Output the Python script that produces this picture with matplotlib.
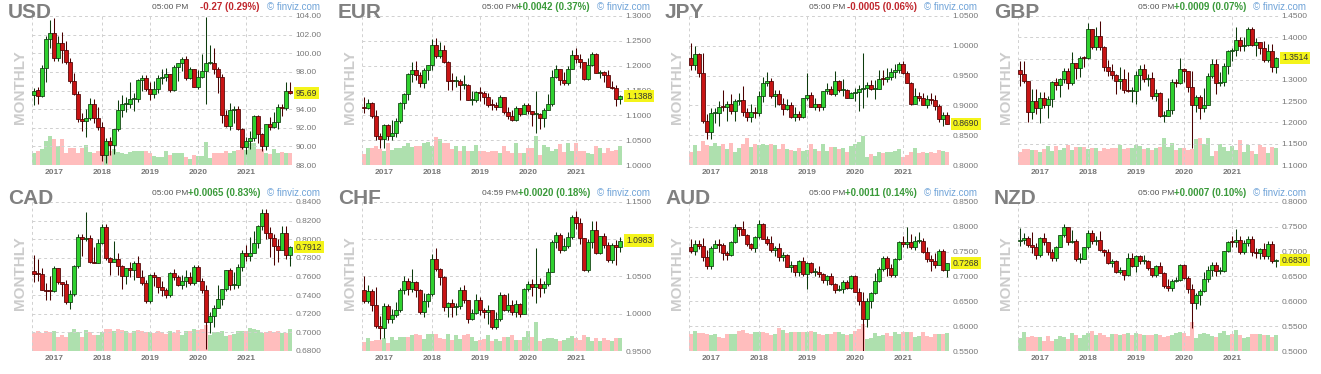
import numpy as np
import matplotlib
matplotlib.use("Agg")
import matplotlib.pyplot as plt
import matplotlib.transforms as mtransforms
from matplotlib.ticker import FormatStrFormatter

plt.rcParams['font.family'] = ['Liberation Sans', 'DejaVu Sans']

# monthly candles, Aug 2016 .. Dec 2021 (65 months)
years = ['2017', '2018', '2019', '2020', '2021']
year_idx = [5, 17, 29, 41, 53]          # January candle of each year

# ---- USD ----
usd_open0 = 95.5
usd_close = [96.0, 95.45, 98.45, 101.5, 102.2,
             99.5, 101.1, 100.35, 99.05, 97.0, 95.6, 92.9, 92.7, 93.1, 94.55, 93.05, 92.1,
             89.1, 90.6, 90.15, 91.85, 93.95, 94.5, 94.5, 95.1, 95.1, 97.1, 97.3, 96.2,
             95.6, 96.15, 97.3, 97.5, 97.75, 96.1, 98.5, 98.9, 99.4, 97.35, 98.3, 96.4,
             97.4, 98.1, 99.0, 99.0, 98.3, 97.4, 93.35, 92.15, 93.9, 94.0, 91.9, 89.9,
             90.6, 90.9, 93.3, 91.3, 90.0, 92.4, 92.1, 92.6, 94.2, 94.1, 95.95, 95.69]
usd_high = [96.3, 96.4, 98.7, 101.9, 103.6,
            103.8, 101.8, 102.3, 101.3, 99.5, 97.9, 96.0, 93.6, 94.0, 95.2, 95.1, 94.2,
            92.6, 90.9, 91.0, 91.9, 95.0, 95.5, 95.25, 96.9, 95.7, 97.2, 97.7, 97.7,
            96.95, 97.0, 97.7, 98.3, 98.4, 97.8, 98.7, 99.0, 99.65, 99.7, 98.5, 98.3,
            98.2, 99.9, 103.9, 100.9, 100.6, 98.5, 97.8, 93.95, 94.7, 94.3, 94.3, 92.0,
            91.0, 91.6, 93.4, 93.4, 91.4, 92.4, 93.2, 93.7, 94.5, 94.6, 96.9, 96.9]
usd_low = [94.4, 94.6, 95.3, 96.9, 100.6,
           99.2, 99.2, 98.9, 98.8, 96.8, 95.5, 92.6, 91.6, 91.0, 92.8, 92.5, 91.8,
           88.4, 88.25, 89.1, 89.2, 91.7, 93.2, 93.7, 94.1, 93.8, 94.8, 96.0, 95.95,
           95.0, 95.2, 95.7, 96.75, 97.0, 95.8, 95.95, 97.05, 98.1, 97.1, 97.2, 96.4,
           96.2, 97.35, 94.6, 98.8, 97.8, 95.7, 92.5, 92.1, 91.75, 92.5, 91.75, 89.7,
           89.2, 89.7, 90.6, 90.4, 89.55, 89.6, 91.8, 92.0, 91.9, 93.3, 93.9, 95.6]
usd_vol = [12, 14, 16, 24, 29, 26, 19, 26, 12, 17, 17, 12, 17, 20, 13, 12, 14, 19, 17, 14,
           16, 13, 12, 11, 13, 14, 14, 14, 14, 12, 9, 8, 8, 14, 10, 12, 12, 12, 8, 6,
           10, 9, 9, 23, 7, 12, 12, 12, 14, 12, 14, 15, 19, 15, 22, 22, 16, 16, 12, 11,
           16, 12, 13, 12, 12]

# ---- EUR ----
eur_open0 = 1.1170
eur_close = [1.1157, 1.1240, 1.0980, 1.0587, 1.0517,
             1.0797, 1.0575, 1.0652, 1.0895, 1.1241, 1.1426, 1.1842, 1.1910, 1.1813, 1.1645, 1.1904, 1.2005,
             1.2414, 1.2193, 1.2324, 1.2078, 1.1693, 1.1684, 1.1691, 1.1603, 1.1604, 1.1312, 1.1318, 1.1467,
             1.1442, 1.1372, 1.1217, 1.1215, 1.1168, 1.1370, 1.1075, 1.0992, 1.0899, 1.1153, 1.1017, 1.1213,
             1.1093, 1.1027, 1.1031, 1.0955, 1.1099, 1.1233, 1.1778, 1.1937, 1.1721, 1.1647, 1.1929, 1.2216,
             1.2136, 1.2075, 1.1730, 1.2020, 1.2227, 1.1858, 1.1870, 1.1809, 1.1579, 1.1558, 1.1338, 1.1388]
eur_high = [1.1366, 1.1328, 1.1278, 1.1100, 1.0652,
            1.0829, 1.0829, 1.0906, 1.0950, 1.1268, 1.1445, 1.1846, 1.2070, 1.2092, 1.1880, 1.1961, 1.2023,
            1.2537, 1.2556, 1.2476, 1.2414, 1.2097, 1.1852, 1.1791, 1.1734, 1.1815, 1.1622, 1.1500, 1.1486,
            1.1570, 1.1489, 1.1448, 1.1324, 1.1265, 1.1412, 1.1285, 1.1164, 1.1110, 1.1179, 1.1097, 1.1240,
            1.1239, 1.1095, 1.1495, 1.1040, 1.1146, 1.1422, 1.1909, 1.2011, 1.1917, 1.1881, 1.2003, 1.2310,
            1.2349, 1.2243, 1.1990, 1.2150, 1.2266, 1.2254, 1.1909, 1.1901, 1.1910, 1.1692, 1.1616, 1.1400]
eur_low = [1.1045, 1.1122, 1.0952, 1.0506, 1.0352,
           1.0340, 1.0494, 1.0496, 1.0570, 1.0839, 1.1119, 1.1312, 1.1662, 1.1717, 1.1575, 1.1554, 1.1718,
           1.1916, 1.2156, 1.2155, 1.2054, 1.1510, 1.1508, 1.1575, 1.1301, 1.1526, 1.1302, 1.1216, 1.1269,
           1.1289, 1.1234, 1.1176, 1.1111, 1.1107, 1.1181, 1.1028, 1.0927, 1.0879, 1.0879, 1.0981, 1.1024,
           1.1036, 1.0778, 1.0636, 1.0727, 1.0767, 1.1100, 1.1185, 1.1751, 1.1612, 1.1603, 1.1602, 1.1925,
           1.2054, 1.1952, 1.1704, 1.1704, 1.1987, 1.1847, 1.1752, 1.1664, 1.1563, 1.1524, 1.1186, 1.1221]
eur_vol = [11, 17, 17, 19, 16, 14, 22, 15, 17, 17, 19, 22, 18, 19, 19, 22, 23, 19, 28, 26,
           22, 22, 16, 19, 14, 19, 14, 14, 20, 14, 14, 13, 14, 14, 12, 19, 14, 12, 22, 12,
           12, 17, 17, 29, 10, 20, 18, 14, 16, 21, 13, 22, 14, 22, 14, 14, 12, 11, 19, 17,
           12, 17, 14, 15, 19]

# ---- JPY ----
jpy_open0 = 0.980
jpy_close = [0.967, 0.987, 0.954, 0.874, 0.855,
             0.887, 0.887, 0.898, 0.897, 0.903, 0.890, 0.907, 0.909, 0.889, 0.880, 0.889, 0.888,
             0.916, 0.937, 0.941, 0.915, 0.919, 0.903, 0.894, 0.901, 0.880, 0.886, 0.881, 0.912,
             0.918, 0.898, 0.902, 0.898, 0.924, 0.927, 0.919, 0.941, 0.925, 0.926, 0.913, 0.921,
             0.923, 0.927, 0.930, 0.935, 0.927, 0.927, 0.945, 0.944, 0.948, 0.956, 0.959, 0.969,
             0.955, 0.938, 0.903, 0.915, 0.913, 0.900, 0.911, 0.909, 0.899, 0.878, 0.884, 0.869]
jpy_high = [1.005, 0.999, 0.988, 0.988, 0.886,
            0.896, 0.895, 0.908, 0.925, 0.907, 0.919, 0.910, 0.921, 0.932, 0.896, 0.902, 0.898,
            0.924, 0.947, 0.956, 0.946, 0.925, 0.925, 0.913, 0.911, 0.906, 0.898, 0.890, 0.913,
            0.954, 0.922, 0.912, 0.902, 0.923, 0.937, 0.933, 0.957, 0.942, 0.944, 0.927, 0.923,
            0.929, 0.934, 0.988, 0.940, 0.943, 0.943, 0.960, 0.960, 0.962, 0.962, 0.969, 0.972,
            0.975, 0.958, 0.940, 0.930, 0.923, 0.921, 0.917, 0.920, 0.917, 0.903, 0.889, 0.889]
jpy_low = [0.959, 0.959, 0.948, 0.871, 0.843,
           0.843, 0.870, 0.866, 0.891, 0.874, 0.886, 0.873, 0.900, 0.883, 0.874, 0.872, 0.879,
           0.882, 0.905, 0.932, 0.913, 0.898, 0.901, 0.884, 0.892, 0.879, 0.873, 0.876, 0.879,
           0.909, 0.897, 0.892, 0.890, 0.893, 0.919, 0.917, 0.915, 0.922, 0.915, 0.912, 0.912,
           0.907, 0.891, 0.895, 0.914, 0.925, 0.910, 0.927, 0.934, 0.939, 0.943, 0.946, 0.955,
           0.953, 0.937, 0.901, 0.905, 0.907, 0.900, 0.896, 0.903, 0.892, 0.872, 0.866, 0.868]
jpy_vol = [13, 20, 14, 24, 20, 19, 22, 19, 21, 16, 22, 13, 17, 21, 27, 18, 21, 20, 21, 20,
           21, 20, 16, 21, 16, 15, 14, 17, 14, 15, 21, 16, 14, 21, 14, 18, 18, 16, 17, 13,
           19, 21, 23, 29, 8, 11, 9, 13, 12, 13, 13, 14, 16, 8, 10, 13, 17, 12, 13, 12,
           13, 12, 15, 14, 13]

# ---- GBP ----
gbp_open0 = 1.3230
gbp_close = [1.3130, 1.2975, 1.2237, 1.2503, 1.2340,
             1.2580, 1.2410, 1.2550, 1.2945, 1.2885, 1.3025, 1.3205, 1.2930, 1.3400, 1.3285, 1.3525, 1.3505,
             1.4190, 1.3770, 1.4025, 1.3765, 1.3300, 1.3200, 1.3125, 1.2970, 1.3030, 1.2765, 1.2745, 1.2750,
             1.3110, 1.3260, 1.3030, 1.3035, 1.2630, 1.2700, 1.2160, 1.2160, 1.2290, 1.2940, 1.2935, 1.3260,
             1.3205, 1.2825, 1.2420, 1.2595, 1.2345, 1.2400, 1.3090, 1.3370, 1.2920, 1.2950, 1.3330, 1.3670,
             1.3705, 1.3925, 1.3785, 1.3815, 1.4190, 1.3830, 1.3900, 1.3755, 1.3475, 1.3680, 1.3300, 1.3514]
gbp_high = [1.3445, 1.3445, 1.2980, 1.2775, 1.2775,
            1.2705, 1.2705, 1.2615, 1.2965, 1.3045, 1.3050, 1.3270, 1.3270, 1.3655, 1.3340, 1.3550, 1.3550,
            1.4345, 1.4145, 1.4245, 1.4375, 1.3790, 1.3470, 1.3365, 1.3140, 1.3300, 1.3260, 1.3175, 1.2840,
            1.3215, 1.3350, 1.3380, 1.3135, 1.3175, 1.2785, 1.2705, 1.2265, 1.2580, 1.3010, 1.3015, 1.3515,
            1.3285, 1.3200, 1.3200, 1.2645, 1.2645, 1.2815, 1.3170, 1.3480, 1.3480, 1.3175, 1.3400, 1.3705,
            1.3760, 1.4240, 1.4010, 1.4010, 1.4250, 1.4250, 1.3985, 1.3890, 1.3915, 1.3835, 1.3835, 1.3535]
gbp_low = [1.2865, 1.2915, 1.2005, 1.2085, 1.2200,
           1.1985, 1.2345, 1.2110, 1.2365, 1.2770, 1.2590, 1.2935, 1.2775, 1.2880, 1.3030, 1.3060, 1.3300,
           1.3500, 1.3715, 1.3710, 1.3710, 1.3205, 1.3100, 1.3010, 1.2660, 1.2785, 1.2695, 1.2725, 1.2475,
           1.2440, 1.2770, 1.2960, 1.2865, 1.2560, 1.2505, 1.2120, 1.2015, 1.2195, 1.2195, 1.2825, 1.2905,
           1.2960, 1.2725, 1.1410, 1.2250, 1.2075, 1.2255, 1.2480, 1.3055, 1.2675, 1.2855, 1.2855, 1.3135,
           1.3450, 1.3565, 1.3670, 1.3670, 1.3800, 1.3790, 1.3570, 1.3600, 1.3410, 1.3410, 1.3195, 1.3160]
gbp_vol = [13, 16, 16, 15, 15, 13, 16, 19, 14, 19, 15, 17, 20, 15, 18, 18, 18, 16, 17, 17,
           14, 17, 16, 17, 17, 20, 16, 17, 17, 20, 19, 16, 17, 15, 17, 18, 27, 18, 22, 15,
           17, 17, 15, 16, 26, 27, 21, 27, 9, 14, 21, 18, 14, 19, 15, 25, 13, 20, 14, 11,
           20, 18, 12, 18, 17]

# ---- CAD ----
cad_open0 = 0.7657
cad_close = [0.7625, 0.7622, 0.7457, 0.7446, 0.7443,
             0.7686, 0.7536, 0.7519, 0.7326, 0.7407, 0.7710, 0.8022, 0.8000, 0.8013, 0.7752, 0.7749, 0.7959,
             0.8130, 0.7794, 0.7755, 0.7791, 0.7713, 0.7608, 0.7686, 0.7666, 0.7743, 0.7596, 0.7527, 0.7334,
             0.7613, 0.7596, 0.7491, 0.7452, 0.7399, 0.7637, 0.7593, 0.7513, 0.7553, 0.7596, 0.7527, 0.7698,
             0.7556, 0.7454, 0.7112, 0.7181, 0.7260, 0.7361, 0.7468, 0.7666, 0.7510, 0.7510, 0.7701, 0.7855,
             0.7819, 0.7852, 0.7959, 0.8140, 0.8285, 0.8068, 0.8016, 0.7924, 0.7886, 0.8071, 0.7831, 0.7912]
cad_high = [0.7834, 0.7785, 0.7686, 0.7530, 0.7602,
            0.7710, 0.7680, 0.7545, 0.7561, 0.7457, 0.7722, 0.8058, 0.8055, 0.8292, 0.8045, 0.7915, 0.8000,
            0.8163, 0.8163, 0.7806, 0.7980, 0.7855, 0.7728, 0.7692, 0.7761, 0.7764, 0.7825, 0.7666, 0.7561,
            0.7622, 0.7651, 0.7599, 0.7547, 0.7479, 0.7651, 0.7683, 0.7616, 0.7613, 0.7669, 0.7651, 0.7722,
            0.7719, 0.7587, 0.7510, 0.7218, 0.7291, 0.7510, 0.7468, 0.7672, 0.7695, 0.7645, 0.7737, 0.7880,
            0.7943, 0.8019, 0.8087, 0.8153, 0.8326, 0.8330, 0.8127, 0.8052, 0.8003, 0.8137, 0.8137, 0.7924]
cad_low = [0.7544, 0.7547, 0.7452, 0.7353, 0.7353,
           0.7438, 0.7524, 0.7388, 0.7307, 0.7249, 0.7386, 0.7689, 0.7825, 0.7984, 0.7743, 0.7743, 0.7740,
           0.7949, 0.7779, 0.7619, 0.7752, 0.7619, 0.7471, 0.7524, 0.7599, 0.7561, 0.7593, 0.7505, 0.7318,
           0.7318, 0.7496, 0.7424, 0.7394, 0.7372, 0.7383, 0.7567, 0.7493, 0.7471, 0.7491, 0.7508, 0.7508,
           0.7556, 0.7427, 0.6818, 0.6993, 0.7055, 0.7305, 0.7291, 0.7446, 0.7452, 0.7468, 0.7479, 0.7663,
           0.7764, 0.7764, 0.7849, 0.7905, 0.8097, 0.8006, 0.7809, 0.7722, 0.7755, 0.7886, 0.7788, 0.7713]
cad_vol = [18, 20, 18, 20, 19, 20, 14, 16, 14, 19, 22, 19, 14, 21, 19, 16, 16, 19, 22, 22,
           20, 22, 21, 20, 18, 20, 21, 20, 19, 19, 18, 20, 19, 17, 20, 18, 21, 16, 20, 20,
           22, 21, 22, 26, 16, 19, 19, 20, 15, 16, 17, 20, 20, 20, 23, 22, 21, 18, 19, 20,
           19, 20, 18, 18, 22]

# ---- CHF ----
chf_open0 = 1.0320
chf_close = [1.0168, 1.0299, 1.0111, 0.9833, 0.9814,
             1.0106, 0.9935, 0.9985, 1.0055, 1.0325, 1.0444, 1.0336, 1.0428, 1.0325, 1.0025, 1.0173, 1.0262,
             1.0741, 1.0604, 1.0488, 1.0096, 1.0142, 1.0096, 1.0101, 1.0320, 1.0189, 0.9926, 1.0010, 1.0189,
             1.0055, 1.0025, 1.0045, 0.9823, 0.9926, 1.0256, 1.0055, 1.0116, 1.0020, 1.0137, 0.9995, 1.0336,
             1.0395, 1.0363, 1.0395, 1.0341, 1.0406, 1.0565, 1.0965, 1.1062, 1.0858, 1.0911, 1.1031, 1.1299,
             1.1223, 1.1013, 1.0588, 1.0959, 1.1123, 1.0817, 1.1043, 1.0929, 1.0724, 1.0929, 1.0899, 1.0983]
chf_high = [1.0500, 1.0384, 1.0331, 1.0363, 0.9975,
            1.0140, 1.0135, 1.0070, 1.0160, 1.0340, 1.0500, 1.0480, 1.0595, 1.0440, 1.0330, 1.0275, 1.0280,
            1.0800, 1.0880, 1.0620, 1.0500, 1.0160, 1.0200, 1.0150, 1.0360, 1.0385, 1.0190, 1.0070, 1.0270,
            1.0220, 1.0080, 1.0120, 1.0050, 1.0030, 1.0290, 1.0265, 1.0280, 1.0185, 1.0185, 1.0150, 1.0340,
            1.0435, 1.0460, 1.0880, 1.0480, 1.0440, 1.0620, 1.0985, 1.1100, 1.1085, 1.1015, 1.1095, 1.1320,
            1.1380, 1.1280, 1.1020, 1.1000, 1.1240, 1.1240, 1.1050, 1.1080, 1.0960, 1.0950, 1.0990, 1.1030]
chf_low = [1.0142, 1.0150, 1.0040, 0.9814, 0.9667,
           0.9680, 0.9880, 0.9870, 0.9950, 1.0020, 1.0270, 1.0250, 1.0290, 1.0220, 1.0000, 0.9950, 1.0090,
           1.0240, 1.0570, 1.0380, 1.0040, 0.9960, 0.9960, 0.9980, 1.0070, 1.0150, 0.9880, 0.9920, 1.0000,
           0.9980, 0.9940, 0.9860, 0.9790, 0.9800, 0.9900, 1.0040, 1.0030, 0.9980, 0.9960, 0.9960, 0.9990,
           1.0310, 1.0240, 1.0150, 1.0230, 1.0280, 1.0370, 1.0555, 1.0880, 1.0810, 1.0840, 1.0880, 1.1000,
           1.1140, 1.0930, 1.0570, 1.0560, 1.0880, 1.0800, 1.0800, 1.0880, 1.0700, 1.0680, 1.0650, 1.0830]
chf_vol = [9, 13, 10, 11, 11, 13, 8, 14, 11, 14, 14, 14, 16, 17, 16, 12, 17, 17, 17, 13,
           12, 17, 11, 16, 12, 16, 17, 14, 10, 11, 12, 16, 10, 12, 10, 14, 14, 16, 11, 11,
           14, 20, 14, 29, 10, 12, 13, 13, 12, 10, 11, 13, 15, 13, 11, 16, 14, 10, 13, 10,
           13, 11, 10, 13, 13]

# ---- AUD ----
aud_open0 = 0.7600
aud_close = [0.7515, 0.7650, 0.7605, 0.7385, 0.7210,
             0.7580, 0.7660, 0.7640, 0.7475, 0.7425, 0.7690, 0.7995, 0.7950, 0.7840, 0.7650, 0.7565, 0.7805,
             0.8055, 0.7765, 0.7680, 0.7530, 0.7565, 0.7400, 0.7430, 0.7195, 0.7230, 0.7085, 0.7310, 0.7045,
             0.7265, 0.7095, 0.7100, 0.7050, 0.6935, 0.7020, 0.6840, 0.6730, 0.6755, 0.6895, 0.6765, 0.7020,
             0.6690, 0.6515, 0.6135, 0.6515, 0.6665, 0.6900, 0.7145, 0.7375, 0.7165, 0.7030, 0.7355, 0.7700,
             0.7650, 0.7700, 0.7600, 0.7715, 0.7720, 0.7500, 0.7345, 0.7315, 0.7225, 0.7520, 0.7130, 0.7268]
aud_high = [0.7760, 0.7735, 0.7735, 0.7780, 0.7525,
            0.7605, 0.7740, 0.7750, 0.7680, 0.7520, 0.7710, 0.8065, 0.8000, 0.8125, 0.7860, 0.7680, 0.7820,
            0.8135, 0.8085, 0.7815, 0.7815, 0.7610, 0.7680, 0.7485, 0.7455, 0.7315, 0.7240, 0.7340, 0.7390,
            0.7295, 0.7295, 0.7180, 0.7205, 0.7070, 0.7025, 0.7080, 0.6860, 0.6835, 0.6930, 0.6930, 0.7030,
            0.7030, 0.6775, 0.6685, 0.6570, 0.6685, 0.7065, 0.7190, 0.7415, 0.7415, 0.7245, 0.7370, 0.7705,
            0.7820, 0.8005, 0.7850, 0.7815, 0.7890, 0.7775, 0.7600, 0.7425, 0.7480, 0.7555, 0.7555, 0.7275]
aud_low = [0.7480, 0.7440, 0.7550, 0.7310, 0.7160,
           0.7160, 0.7570, 0.7490, 0.7330, 0.7330, 0.7420, 0.7670, 0.7810, 0.7830, 0.7620, 0.7530, 0.7500,
           0.7760, 0.7760, 0.7640, 0.7500, 0.7420, 0.7310, 0.7310, 0.7200, 0.7085, 0.7020, 0.7020, 0.7015,
           0.6740, 0.7065, 0.7005, 0.6990, 0.6865, 0.6830, 0.6830, 0.6675, 0.6710, 0.6670, 0.6755, 0.6755,
           0.6680, 0.6435, 0.5505, 0.5975, 0.6370, 0.6640, 0.6885, 0.7110, 0.7005, 0.6990, 0.7000, 0.7340,
           0.7590, 0.7565, 0.7560, 0.7530, 0.7680, 0.7475, 0.7290, 0.7105, 0.7170, 0.7225, 0.7105, 0.6995]
aud_vol = [17, 20, 18, 18, 17, 16, 17, 14, 13, 17, 17, 17, 20, 21, 18, 17, 19, 19, 19, 18,
           16, 17, 23, 21, 18, 19, 19, 19, 19, 19, 20, 19, 17, 16, 17, 17, 19, 19, 17, 16,
           17, 20, 22, 27, 12, 13, 18, 15, 16, 18, 15, 19, 17, 19, 19, 19, 14, 15, 19, 15,
           14, 17, 17, 17, 18]

# ---- NZD ----
nzd_open0 = 0.7215
nzd_close = [0.7240, 0.7280, 0.7140, 0.7100, 0.6940,
             0.7280, 0.7185, 0.7000, 0.6865, 0.7090, 0.7330, 0.7505, 0.7185, 0.7210, 0.6845, 0.6850, 0.7090,
             0.7370, 0.7215, 0.7225, 0.7035, 0.7000, 0.6770, 0.6810, 0.6600, 0.6625, 0.6525, 0.6870, 0.6715,
             0.6910, 0.6810, 0.6810, 0.6675, 0.6530, 0.6720, 0.6580, 0.6305, 0.6265, 0.6415, 0.6420, 0.6735,
             0.6465, 0.6240, 0.5960, 0.6130, 0.6205, 0.6455, 0.6640, 0.6735, 0.6610, 0.6610, 0.7020, 0.7195,
             0.7185, 0.7225, 0.6985, 0.7165, 0.7265, 0.6985, 0.6980, 0.7045, 0.6905, 0.7160, 0.6815, 0.6830]
nzd_high = [0.7485, 0.7380, 0.7310, 0.7400, 0.7175,
            0.7300, 0.7375, 0.7195, 0.7050, 0.7120, 0.7345, 0.7560, 0.7395, 0.7435, 0.7255, 0.6970, 0.7100,
            0.7435, 0.7440, 0.7315, 0.7415, 0.7055, 0.7060, 0.6855, 0.6840, 0.6685, 0.6595, 0.6970, 0.6970,
            0.6940, 0.6940, 0.6940, 0.6830, 0.6670, 0.6725, 0.6790, 0.6590, 0.6440, 0.6440, 0.6480, 0.6750,
            0.6755, 0.6510, 0.6355, 0.6175, 0.6240, 0.6585, 0.6715, 0.6795, 0.6800, 0.6700, 0.7020, 0.7220,
            0.7315, 0.7465, 0.7310, 0.7225, 0.7315, 0.7320, 0.7080, 0.7080, 0.7170, 0.7220, 0.7220, 0.6860]
nzd_low = [0.7120, 0.7160, 0.7090, 0.6980, 0.6860,
           0.6890, 0.7130, 0.6930, 0.6820, 0.6820, 0.7095, 0.7305, 0.7130, 0.7175, 0.6820, 0.6780, 0.6860,
           0.7060, 0.7160, 0.7135, 0.7010, 0.6905, 0.6750, 0.6690, 0.6570, 0.6550, 0.6425, 0.6510, 0.6690,
           0.6600, 0.6745, 0.6745, 0.6635, 0.6490, 0.6485, 0.6575, 0.6270, 0.6200, 0.6205, 0.6380, 0.6415,
           0.6455, 0.6170, 0.5470, 0.5850, 0.5920, 0.6195, 0.6380, 0.6510, 0.6505, 0.6550, 0.6590, 0.6990,
           0.7100, 0.7100, 0.6945, 0.6945, 0.7115, 0.6920, 0.6880, 0.6860, 0.6860, 0.6860, 0.6770, 0.6700]
nzd_vol = [13, 19, 14, 15, 14, 14, 10, 15, 10, 12, 15, 14, 12, 18, 16, 13, 16, 18, 20, 16,
           18, 16, 14, 17, 17, 16, 17, 18, 16, 18, 17, 16, 16, 16, 17, 16, 14, 15, 16, 18,
           19, 18, 15, 29, 13, 17, 18, 17, 15, 14, 18, 20, 16, 17, 21, 16, 13, 14, 17, 17,
           17, 16, 16, 14, 16]

# header texts
tickers = ['USD', 'EUR', 'JPY', 'GBP', 'CAD', 'CHF', 'AUD', 'NZD']
times = ['05:00 PM', '05:00 PM', '05:00 PM', '05:00 PM', '05:00 PM', '04:59 PM', '05:00 PM', '05:00 PM']
changes = ['-0.27 (0.29%)', '+0.0042 (0.37%)', '-0.0005 (0.06%)', '+0.0009 (0.07%)',
           '+0.0065 (0.83%)', '+0.0020 (0.18%)', '+0.0011 (0.14%)', '+0.0007 (0.10%)']
y_ranges = [(88, 104, 2), (1.0, 1.3, 0.05), (0.80, 1.05, 0.05), (1.10, 1.45, 0.05),
            (0.68, 0.84, 0.02), (0.95, 1.15, 0.05), (0.55, 0.85, 0.05), (0.50, 0.80, 0.05)]

series = [
    (usd_open0, usd_close, usd_high, usd_low, usd_vol),
    (eur_open0, eur_close, eur_high, eur_low, eur_vol),
    (jpy_open0, jpy_close, jpy_high, jpy_low, jpy_vol),
    (gbp_open0, gbp_close, gbp_high, gbp_low, gbp_vol),
    (cad_open0, cad_close, cad_high, cad_low, cad_vol),
    (chf_open0, chf_close, chf_high, chf_low, chf_vol),
    (aud_open0, aud_close, aud_high, aud_low, aud_vol),
    (nzd_open0, nzd_close, nzd_high, nzd_low, nzd_vol),
]

# layout in pixels
W, H = 1321, 374
PLOT_LEFT = [32, 362, 689, 1018]
PLOT_TOP = [16, 202]
PW, PH = 261, 149
VOL_TOP = 150      # volume axis ceiling

GRID = dict(color='#d0d0d0', lw=0.7, ls=(0, (3, 3)))
UP_BODY, UP_EDGE, UP_VOL = '#2fd12f', '#0d3b0d', '#aee0ae'
DN_BODY, DN_EDGE, DN_VOL = '#c81414', '#4a0000', '#ffbdbd'

fig = plt.figure(figsize=(W / 100, H / 100), dpi=100)
fig.patch.set_facecolor('white')


def draw_panel(k):
    col, row = k % 4, k // 4
    left, top = PLOT_LEFT[col], PLOT_TOP[row]
    rect = [left / W, 1 - (top + PH) / H, PW / W, PH / H]
    open0, close, high, low, vol = series[k]
    c = np.array(close)
    o = np.array([open0] + close[:-1])   # each month opens at the prior close
    h = np.maximum(np.array(high), np.maximum(o, c))
    l = np.minimum(np.array(low), np.minimum(o, c))
    x = np.arange(len(c))
    up = c >= o
    ymin, ymax, step = y_ranges[k]

    # volume underneath
    axv = fig.add_axes(rect)
    axv.bar(x, vol, width=1.0, color=np.where(up, UP_VOL, DN_VOL), linewidth=0)
    axv.set_xlim(-0.5, 64.75)
    axv.set_ylim(0, VOL_TOP)
    axv.axis('off')

    ax = fig.add_axes(rect)
    ax.patch.set_alpha(0)
    ax.set_xlim(-0.5, 64.75)
    ax.set_ylim(ymin, ymax)
    ticks = np.round(np.arange(ymin, ymax + step / 2, step), 4)
    ax.set_yticks(ticks)
    ax.yaxis.tick_right()
    ax.yaxis.set_major_formatter(FormatStrFormatter('%.2f' if k == 0 else '%.4f'))
    ax.yaxis.grid(True, **GRID)
    ax.set_axisbelow(True)
    for p in year_idx[1:] + [-0.5, 64.75]:
        ax.axvline(p, zorder=0.5, **GRID)
    ax.set_xticks(year_idx, years)
    ax.tick_params(axis='y', length=0, pad=2, labelsize=6, labelcolor='#777777')
    ax.tick_params(axis='x', length=0, pad=3, labelsize=6, labelcolor='#777777')
    for lbl in ax.get_xticklabels():
        lbl.set_fontweight('bold')
    for s in ax.spines.values():
        s.set_visible(False)

    edge = np.where(up, UP_EDGE, DN_EDGE)
    ax.vlines(x, l, h, colors=edge, linewidth=0.75, zorder=2)
    onepx = (ymax - ymin) / PH
    ax.bar(x, np.maximum(np.abs(c - o), onepx), bottom=np.minimum(o, c), width=0.78,
           color=np.where(up, UP_BODY, DN_BODY), edgecolor=edge, linewidth=0.55, zorder=3)

    # last price tag
    trans = mtransforms.blended_transform_factory(ax.transAxes, ax.transData)
    ax.annotate(('%.2f' if k == 0 else '%.4f') % c[-1], xy=(1, c[-1]), xycoords=trans,
                xytext=(3, 0), textcoords='offset pixels', ha='left', va='center',
                fontsize=6.2, color='#333333', annotation_clip=False, zorder=6,
                bbox=dict(boxstyle='square,pad=0.18', fc='#f4f41a', ec='none'))

    # header
    fy = lambda py: 1 - py / H
    fig.text((left - 24) / W, fy(top - 13), tickers[k], ha='left', va='top',
             fontsize=15, fontweight='bold', color='#808080')
    fig.text((left - 12) / W, fy(top + 71), 'MONTHLY', rotation=90, ha='center', va='center',
             fontsize=11, fontweight='bold', color='#cccccc')
    fig.text((left + 156) / W, fy(top - 8.5), times[k], ha='right', va='center',
             fontsize=6, color='#555555')
    neg = changes[k].startswith('-')
    fig.text((left + 228) / W, fy(top - 8.5), changes[k], ha='right', va='center',
             fontsize=7, fontweight='bold', color='#c0262c' if neg else '#3a9a3a')
    fig.text((left + 235) / W, fy(top - 8.5), '\u00a9 finviz.com', ha='left', va='center',
             fontsize=7, color='#6fa3d8')


for k in range(8):
    draw_panel(k)

fig.savefig('out.png', dpi=100, facecolor='white')
